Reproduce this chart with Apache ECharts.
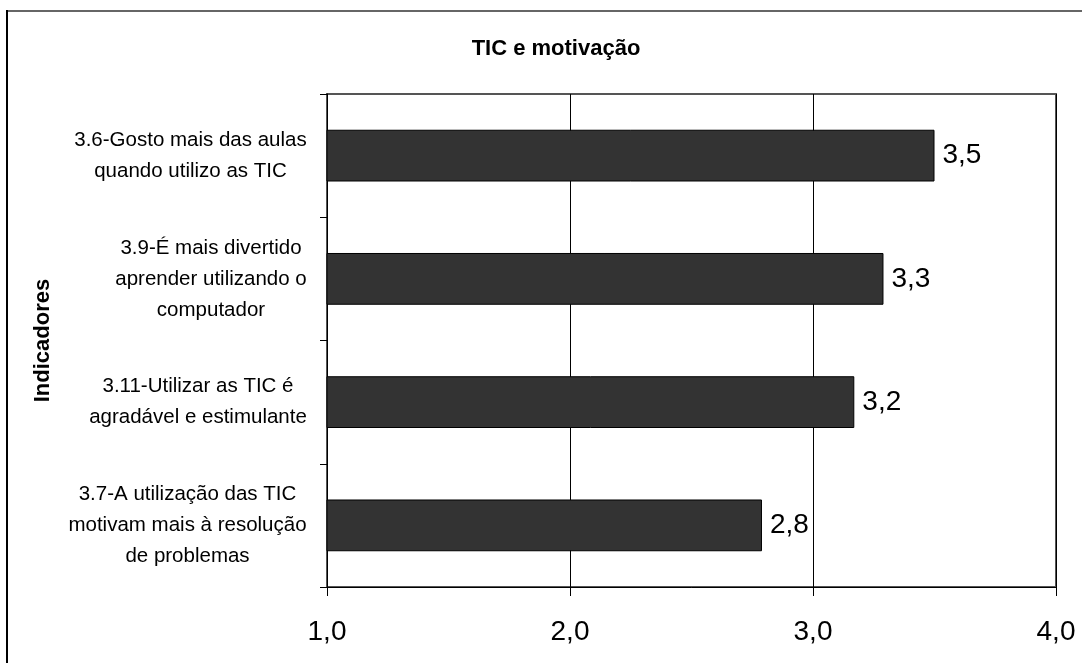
<!DOCTYPE html>
<html>
<head>
<meta charset="utf-8">
<script src="https://cdn.jsdelivr.net/npm/echarts@6/dist/echarts.min.js"></script>
<style>
  html, body { margin: 0; padding: 0; background: #fff; }
  #chart { width: 1082px; height: 663px; }
</style>
</head>
<body>
<div id="chart"></div>
<script>
// data, bottom to top as in the picture
var categories = [
    "3.7-A utilização das TIC\nmotivam mais à resolução\nde problemas",
    "3.11-Utilizar as TIC é\nagradável e estimulante",
    "3.9-É mais divertido\naprender utilizando o\ncomputador",
    "3.6-Gosto mais das aulas\nquando utilizo as TIC"
];
var values = [2.79, 3.17, 3.29, 3.5];
var xTickLabels = ["1,0", "2,0", "3,0", "4,0"];

var narrow = "'Liberation Sans Narrow', 'Liberation Sans', Arial";
var plain = "'Liberation Sans', Arial";
var labelSize = 20.5;

// Excel style labels: block right aligned, lines centered inside it
var ctx = document.createElement("canvas").getContext("2d");
ctx.font = labelSize + "px " + narrow;
var rich = {};
categories.forEach(function (c, i) {
    var w = 0;
    c.split("\n").forEach(function (l) { w = Math.max(w, ctx.measureText(l).width); });
    rich["w" + i] = {
        width: Math.ceil(w) + 2,
        align: "center",
        fontSize: labelSize,
        lineHeight: 31,
        fontFamily: narrow,
        color: "#000"
    };
});

var chart = echarts.init(document.getElementById("chart"), null, {renderer: "canvas"});
var option = {
    animation: false,
    backgroundColor: "#fff",
    title: {
        text: "TIC e motivação",
        left: 551,
        top: 33,
        textAlign: "center",
        textStyle: {fontSize: 22, fontWeight: "bold", fontFamily: narrow, color: "#000"}
    },
    grid: {
        left: 327,
        right: 26,
        top: 94,
        bottom: 76,
        show: true,
        borderColor: "#555",
        borderWidth: 2,
        containLabel: false
    },
    xAxis: {
        type: "value",
        min: 1,
        max: 4,
        interval: 1,
        axisLine: {show: true, lineStyle: {color: "#000", width: 1}},
        axisTick: {show: true, inside: false, length: 9, lineStyle: {color: "#000"}},
        splitLine: {show: true, lineStyle: {color: "#000", width: 1}},
        axisLabel: {
            margin: 31,
            fontSize: 28,
            fontFamily: plain,
            color: "#000",
            formatter: function (v) { return xTickLabels[Math.round(v) - 1]; }
        }
    },
    yAxis: {
        type: "category",
        data: categories,
        name: "Indicadores",
        nameLocation: "middle",
        nameGap: 273,
        nameRotate: 90,
        nameTextStyle: {fontSize: 22, fontWeight: "bold", fontFamily: narrow, color: "#000"},
        axisLine: {show: true, lineStyle: {color: "#000", width: 1}},
        axisTick: {show: true, length: 7, lineStyle: {color: "#000"}},
        axisLabel: {
            margin: 19,
            interval: 0,
            formatter: function (v, i) {
                return v.split("\n").map(function (l) { return "{w" + i + "|" + l + "}"; }).join("\n");
            },
            rich: rich
        }
    },
    series: [{
        type: "bar",
        data: values,
        barCategoryGap: "58%",
        itemStyle: {color: "#333333", borderColor: "#000", borderWidth: 1},
        label: {
            show: true,
            position: "right",
            distance: 8,
            fontSize: 28,
            fontFamily: plain,
            color: "#000",
            formatter: function (p) { return p.value.toFixed(1).replace(".", ","); }
        }
    }],
    graphic: [
        {type: "line", shape: {x1: 7, y1: 11, x2: 1082, y2: 11}, style: {stroke: "#666", lineWidth: 2}},
        {type: "line", shape: {x1: 7, y1: 10, x2: 7, y2: 663}, style: {stroke: "#000", lineWidth: 2}}
    ]
};
chart.setOption(option);
</script>
</body>
</html>
